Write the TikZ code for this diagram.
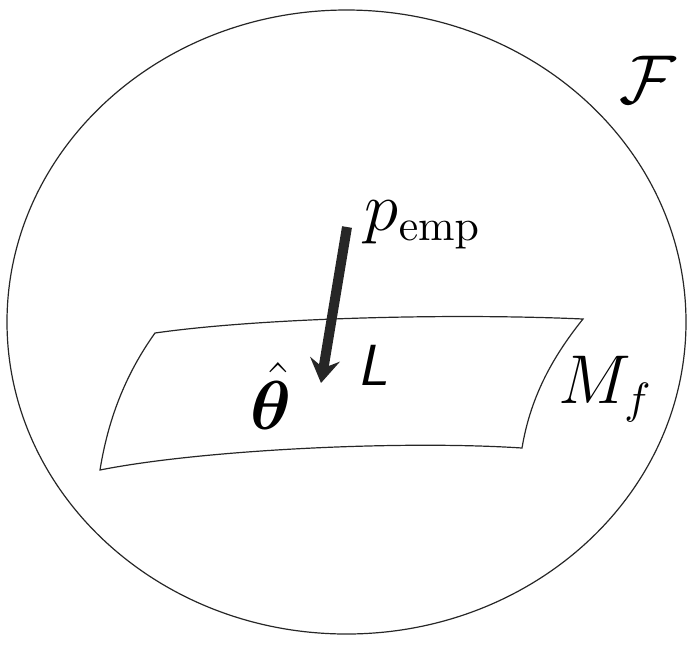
\documentclass[tikz,border=0pt]{standalone}
\usepackage{bm}
\usetikzlibrary{arrows.meta}
\begin{document}
\begin{tikzpicture}[x=0.25pt,y=-0.25pt,
  outline/.style={draw=black!85, line width=0.3pt},
  lbl/.style={inner sep=0pt, font=\fontsize{16.2}{19}\selectfont},
  bigarrow/.style={draw=black!85, line width=2.5pt, -{Stealth[length=6pt,width=7.5pt,inset=2.2pt]}}]
\useasboundingbox (0,0) rectangle (696,645);
\draw[outline] (346.5,322) ellipse [x radius=339.5, y radius=312];
\coordinate (tl) at (155,333);
\coordinate (tr) at (583,319);
\coordinate (br) at (522,448);
\coordinate (bl) at (100,470);
\draw[outline] (tl) .. controls (260,318) and (450,313) .. (tr)
  .. controls (550,360) and (530,400) .. (br)
  .. controls (400,440) and (200,450) .. (bl)
  .. controls (108,420) and (125,375) .. (tl) -- cycle;
\node[lbl] (F) at (648,80) {$\mathcal{F}$};
\node[lbl, anchor=base west] (pemp) at (364,230) {$p_{\mathrm{emp}}$};
\node[lbl, anchor=base west] (Mf) at (558,403) {$M_f$};
\node[lbl, anchor=base west] (theta) at (250,429) {$\hat{\bm{\theta}}$};
\node[lbl, anchor=base west] (L) at (357,385) {\fontsize{14.5}{17}\selectfont\sffamily\slshape L};
\coordinate (astart) at (347,227);
\coordinate (aend) at (321,383);
\draw[bigarrow] (astart) -- (aend);
\end{tikzpicture}
\end{document}
